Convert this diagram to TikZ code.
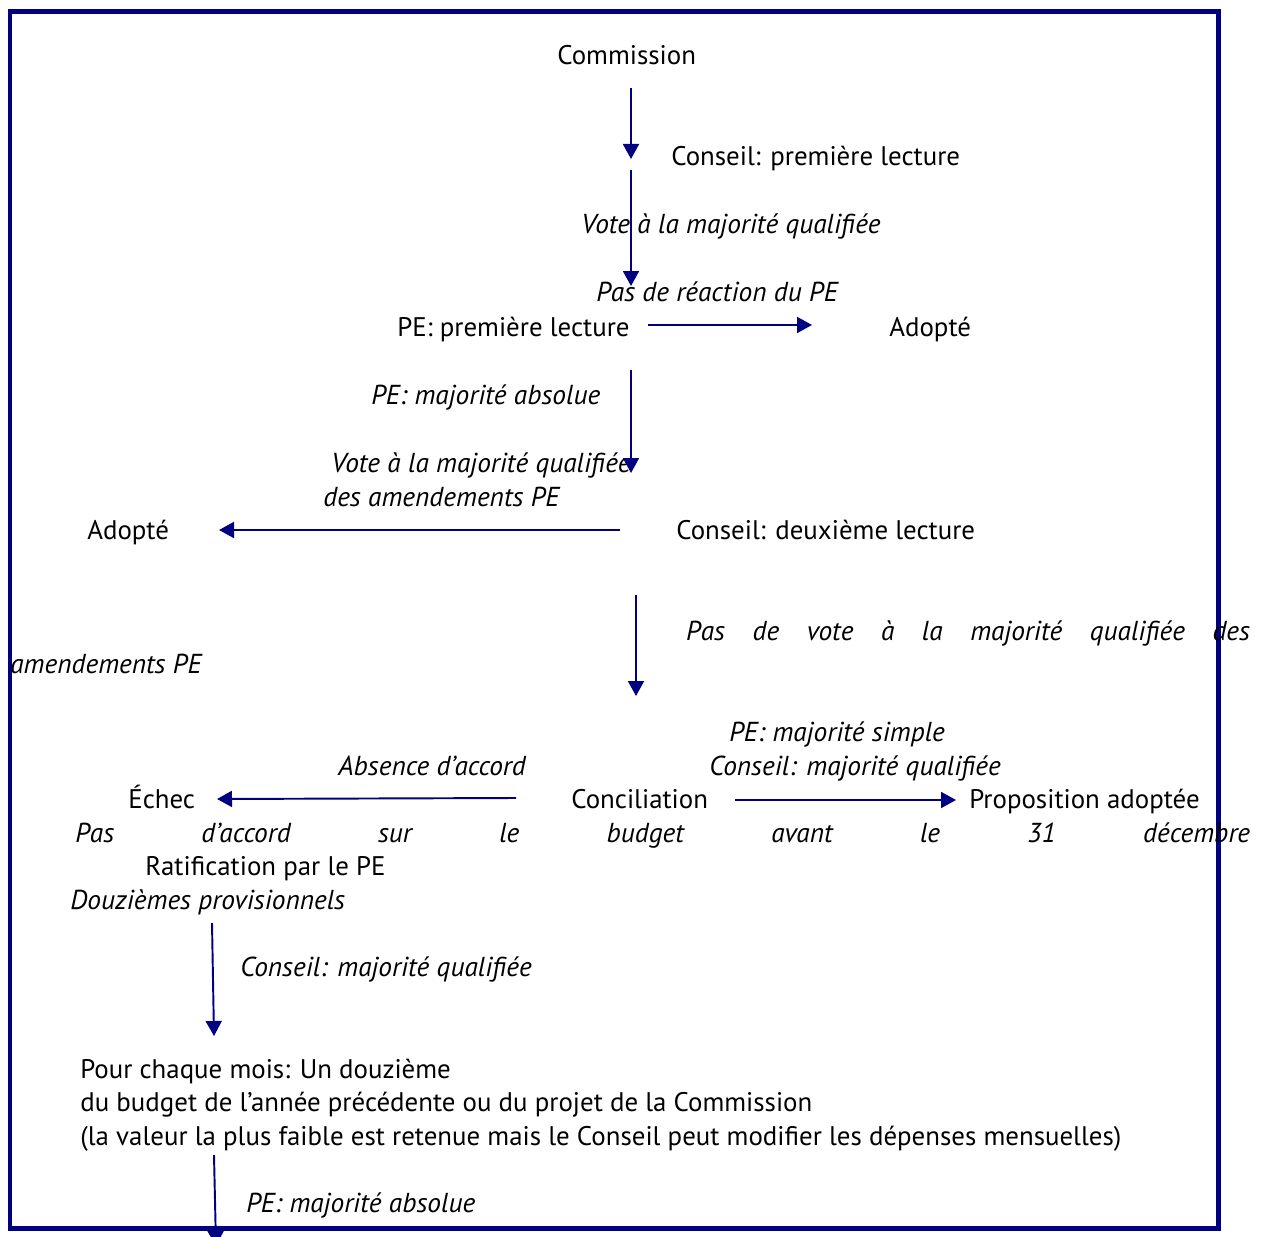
\documentclass[tikz,border=0pt]{standalone}
\usepackage{fontspec}
\setmainfont{PT Sans}
\usetikzlibrary{arrows.meta}
\definecolor{navy}{RGB}{0,0,128}
\begin{document}
\begin{tikzpicture}[x=0.02cm,y=-0.02cm,
  txt/.style={anchor=base west,inner sep=0pt,font=\fontsize{15.3}{19.06}\selectfont},
  note/.style={anchor=base west,inner sep=0pt,font=\fontsize{15.6}{19.06}\selectfont\itshape},
  flow/.style={navy,line width=1.1pt,-{Triangle[length=0.3cm,width=0.32cm]}}]
\useasboundingbox (0,0) rectangle (1263,1236);

% Draw frame
\draw[navy,line width=0.1cm] (10,12) rectangle (1218,1228);

% Draw stages
\node[txt] (comm) at (557,65) {Commission};
\node[txt] (cons1) at (671,166) {Conseil: première lecture};
\node[txt] (pe1) at (397,337) {PE: première lecture};
\node[txt] (adopt1) at (889,337) {Adopté};
\node[txt] (adopt2) at (87,539) {Adopté};
\node[txt] (cons2) at (676,539) {Conseil: deuxième lecture};
\node[txt] (echec) at (128,808) {Échec};
\node[txt] (concil) at (571,808) {Conciliation};
\node[txt] (propad) at (969,808) {Proposition adoptée};
\node[txt] (ratif) at (145,875) {Ratification par le PE};
\node[txt,align=left] (mois) at (80,1145) {Pour chaque mois: Un douzième\\
  du budget de l’année précédente ou du projet de la Commission\\
  (la valeur la plus faible est retenue mais le Conseil peut modifier les dépenses mensuelles)};

% Draw conditions
\node[note] (vote1) at (581,234) {Vote à la majorité qualifiée};
\node[note] (nopas) at (596,302) {Pas de réaction du PE};
\node[note] (peabs1) at (371,404) {PE: majorité absolue};
\node[note] (vote2) at (331,472) {Vote à la majorité qualifiée};
\node[note] (vote2b) at (323,506) {des amendements PE};
\node[note,text width=24.8cm,align=justify] (novote) at (10,640)
  {\hspace*{13.52cm}Pas de vote à la majorité qualifiée des\linebreak amendements PE};
\node[note] (pesimp) at (729,741) {PE: majorité simple};
\node[note] (consq1) at (709,775) {Conseil: majorité qualifiée};
\node[note] (absacc) at (338,775) {Absence d’accord};
\node[note] (pasacc) at (75,842)
  {\makebox[23.5cm][s]{Pas d’accord sur le budget avant le 31 décembre}};
\node[note] (douz) at (70,909) {Douzièmes provisionnels};
\node[note] (consq2) at (240,976) {Conseil: majorité qualifiée};
\node[note] (peabs2) at (246,1212) {PE: majorité absolue};

% Arrow ends
\coordinate (a1s) at (631,88);   \coordinate (a1e) at (631,159);
\coordinate (a2s) at (631,170);  \coordinate (a2e) at (631,286);
\coordinate (a3s) at (648,325);  \coordinate (a3e) at (812,325);
\coordinate (a4s) at (631,370);  \coordinate (a4e) at (631,473);
\coordinate (a5s) at (620,530);  \coordinate (a5e) at (219,530);
\coordinate (a6s) at (636,595);  \coordinate (a6e) at (636,696);
\coordinate (a7s) at (516,798);  \coordinate (a7e) at (217,799);
\coordinate (a8s) at (735,800);  \coordinate (a8e) at (956,800);
\coordinate (a9s) at (212,923);  \coordinate (a9e) at (214,1036);
\coordinate (a10s) at (214,1155); \coordinate (a10e) at (216,1246);

% Draw arrows
\draw[flow] (a1s) -- (a1e);
\draw[flow] (a2s) -- (a2e);
\draw[flow] (a3s) -- (a3e);
\draw[flow] (a4s) -- (a4e);
\draw[flow] (a5s) -- (a5e);
\draw[flow] (a6s) -- (a6e);
\draw[flow] (a7s) -- (a7e);
\draw[flow] (a8s) -- (a8e);
\draw[flow] (a9s) -- (a9e);
\draw[flow] (a10s) -- (a10e);
\end{tikzpicture}
\end{document}
